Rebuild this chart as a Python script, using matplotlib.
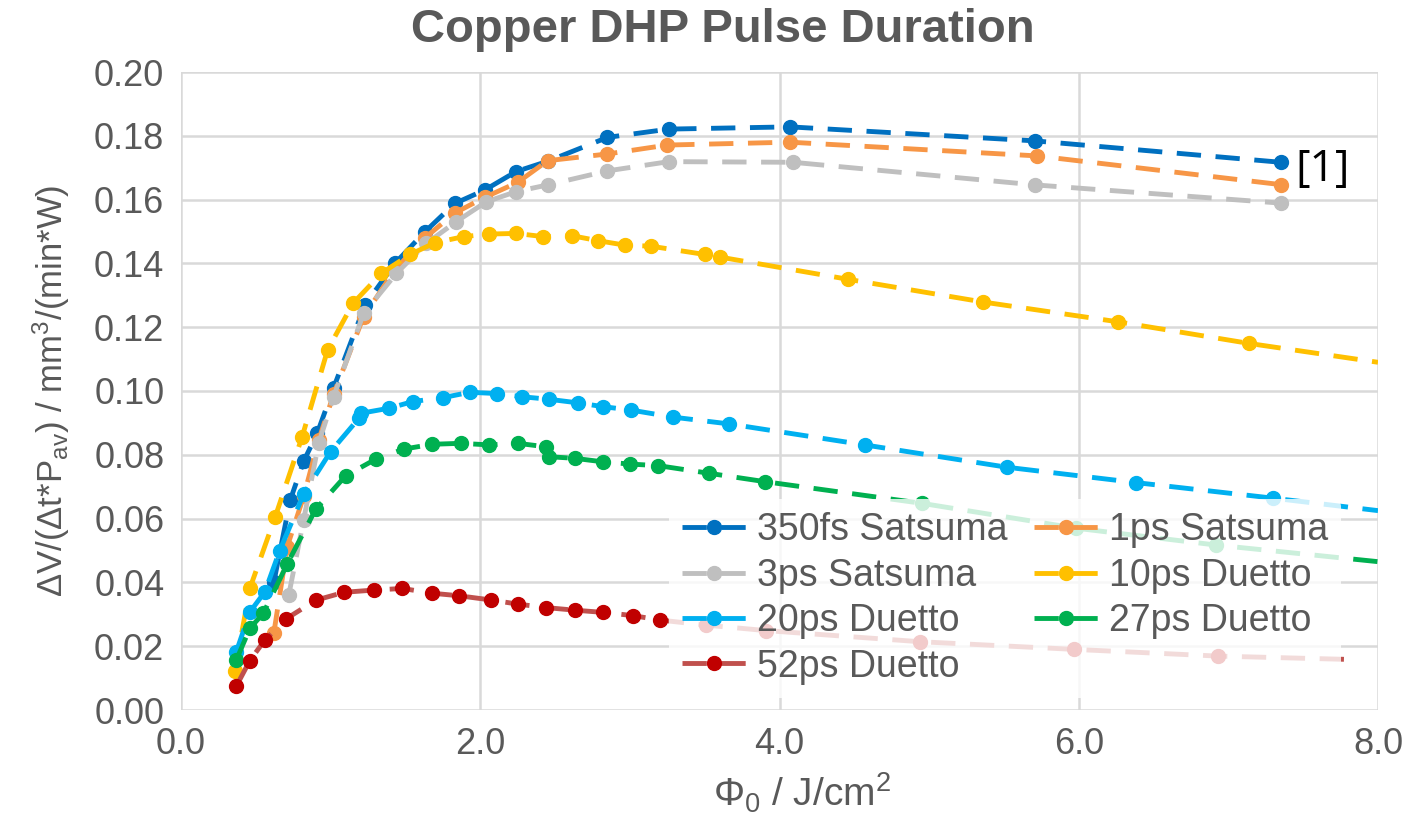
import numpy as np
import matplotlib
matplotlib.use("Agg")
import matplotlib.pyplot as plt

plt.rcParams['font.family'] = ['Liberation Sans', 'DejaVu Sans']
plt.rcParams['mathtext.default'] = 'regular'

# --- data --------------------------------------------------------------
x_350fs = [0.62, 0.73, 0.82, 0.91, 1.02, 1.23, 1.43, 1.63, 1.83, 2.03, 2.24, 2.45, 2.85, 3.26, 4.07, 5.71, 7.35]
y_350fs = [0.0400, 0.0658, 0.0780, 0.0867, 0.1010, 0.1270, 0.1400, 0.1499, 0.1588, 0.1630, 0.1688, 0.1720, 0.1795, 0.1821, 0.1828, 0.1784, 0.1717]

x_1ps = [0.62, 0.71, 0.82, 0.92, 1.02, 1.22, 1.43, 1.63, 1.83, 2.03, 2.25, 2.45, 2.85, 3.25, 4.07, 5.72, 7.35]
y_1ps = [0.0240, 0.0512, 0.0670, 0.0846, 0.0990, 0.1233, 0.1380, 0.1480, 0.1558, 0.1607, 0.1654, 0.1722, 0.1743, 0.1771, 0.1780, 0.1737, 0.1647]

x_3ps = [0.72, 0.82, 0.92, 1.02, 1.22, 1.44, 1.64, 1.84, 2.04, 2.24, 2.45, 2.85, 3.26, 4.09, 5.71, 7.35]
y_3ps = [0.0360, 0.0597, 0.0836, 0.0982, 0.1243, 0.1369, 0.1463, 0.1531, 0.1593, 0.1625, 0.1646, 0.1690, 0.1719, 0.1717, 0.1646, 0.1589]

x_10ps = [0.36, 0.46, 0.63, 0.81, 0.98, 1.15, 1.34, 1.53, 1.70, 1.89, 2.06, 2.24, 2.42, 2.61, 2.79, 2.97, 3.14, 3.50, 3.60, 4.46, 5.36, 6.26, 7.14, 8.00]
y_10ps = [0.0123, 0.0381, 0.0606, 0.0857, 0.1129, 0.1275, 0.1369, 0.1428, 0.1465, 0.1484, 0.1492, 0.1494, 0.1484, 0.1487, 0.1471, 0.1457, 0.1454, 0.1428, 0.1420, 0.1350, 0.1279, 0.1217, 0.1149, 0.1090]

x_20ps = [0.37, 0.46, 0.56, 0.66, 0.82, 1.00, 1.19, 1.20, 1.39, 1.55, 1.75, 1.93, 2.11, 2.28, 2.46, 2.65, 2.82, 3.01, 3.29, 3.66, 4.57, 5.52, 6.38, 7.30, 8.00]
y_20ps = [0.0183, 0.0307, 0.0370, 0.0500, 0.0677, 0.0810, 0.0915, 0.0930, 0.0946, 0.0967, 0.0979, 0.0996, 0.0992, 0.0982, 0.0974, 0.0963, 0.0951, 0.0940, 0.0918, 0.0897, 0.0831, 0.0761, 0.0713, 0.0664, 0.0625]

x_27ps = [0.37, 0.46, 0.55, 0.71, 0.90, 1.10, 1.30, 1.49, 1.68, 1.87, 2.06, 2.25, 2.44, 2.46, 2.63, 2.82, 3.00, 3.19, 3.53, 3.90, 4.95, 5.98, 6.92, 8.00]
y_27ps = [0.0157, 0.0256, 0.0303, 0.0458, 0.0629, 0.0734, 0.0786, 0.0818, 0.0833, 0.0836, 0.0831, 0.0836, 0.0825, 0.0794, 0.0789, 0.0778, 0.0771, 0.0766, 0.0742, 0.0716, 0.0648, 0.0570, 0.0517, 0.0465]

x_52ps = [0.37, 0.46, 0.56, 0.70, 0.90, 1.09, 1.29, 1.48, 1.68, 1.86, 2.07, 2.25, 2.44, 2.63, 2.82, 3.02, 3.20, 3.51, 3.91, 4.94, 5.97, 6.93, 7.85]
y_52ps = [0.0075, 0.0155, 0.0219, 0.0285, 0.0344, 0.0369, 0.0376, 0.0381, 0.0366, 0.0358, 0.0345, 0.0332, 0.0321, 0.0313, 0.0306, 0.0296, 0.0282, 0.0266, 0.0249, 0.0214, 0.0190, 0.0169, 0.0158]

labels = ["350fs Satsuma", "1ps Satsuma", "3ps Satsuma", "10ps Duetto",
          "20ps Duetto", "27ps Duetto", "52ps Duetto"]
xs = [x_350fs, x_1ps, x_3ps, x_10ps, x_20ps, x_27ps, x_52ps]
ys = [y_350fs, y_1ps, y_3ps, y_10ps, y_20ps, y_27ps, y_52ps]
line_colors = ["#0070C0", "#F79646", "#BFBFBF", "#FFC000", "#00B0F0", "#00B050", "#C0504D"]
marker_colors = ["#0070C0", "#F79646", "#BFBFBF", "#FFC000", "#00B0F0", "#00B050", "#C00000"]
# series whose line runs on past the last marker to the axis edge
open_end = [False, False, False, True, True, True, True]

x_ticks = [0, 2, 4, 6, 8]
y_ticks = [0.00, 0.02, 0.04, 0.06, 0.08, 0.10, 0.12, 0.14, 0.16, 0.18, 0.20]

# --- figure ---------------------------------------------------------------
txt = "#595959"
fig = plt.figure(figsize=(14.06, 8.19), dpi=100)
ax = fig.add_axes([181 / 1406, 1 - 710 / 819, 1197 / 1406, 638 / 819])

handles = []
for x, y, lab, lc, mc, oe in zip(xs, ys, labels, line_colors, marker_colors, open_end):
    mk = list(range(len(x) - 1)) if oe else None
    h, = ax.plot(x, y, color=lc, lw=3.5, ls=(0, (5.0, 3.0)), marker="o", ms=10,
                 mfc=mc, mec=mc, markevery=mk, label=lab, clip_on=True)
    handles.append(h)

ax.set_xlim(0, 8)
ax.set_ylim(0, 0.20)
ax.set_xticks(x_ticks)
ax.set_yticks(y_ticks)
ax.set_xticklabels([f"{v:.1f}" for v in x_ticks])
ax.set_yticklabels([f"{v:.2f}" for v in y_ticks])
ax.tick_params(length=0, labelsize=26, labelcolor=txt, pad=12)
ax.grid(True, color="#D9D9D9", lw=1.8)
ax.set_axisbelow(True)
for s in ax.spines.values():
    s.set_visible(False)

fig.suptitle("Copper DHP Pulse Duration", x=0.514, y=1 - 30 / 819, va="center",
             fontsize=34, fontweight="bold", color=txt)
ax.set_xlabel("Φ$_0$ / J/cm$^2$", fontsize=28, color=txt)
ax.xaxis.set_label_coords(0.519, -0.095)
ax.set_ylabel("ΔV/(Δt*P$_{av}$) / mm$^3$/(min*W)", fontsize=25, color=txt, labelpad=16)

ax.text(7.45, 0.1695, "[1]", fontsize=32, color="black", family=["Open Sans", "DejaVu Sans"],
        va="center", ha="left")

# row-wise legend order: col 1 then col 2
order = [0, 2, 4, 6, 1, 3, 5]
leg = ax.legend([handles[i] for i in order], [labels[i] for i in order], ncol=2,
                loc="lower right", bbox_to_anchor=(0.985, -0.01), fontsize=27,
                frameon=True, framealpha=0.8, edgecolor="none", facecolor="white",
                handlelength=1.7, handletextpad=0.3, columnspacing=0.7,
                labelspacing=0.25, borderpad=0.35)
for t in leg.get_texts():
    t.set_color(txt)

fig.savefig("out.png", dpi=100)
